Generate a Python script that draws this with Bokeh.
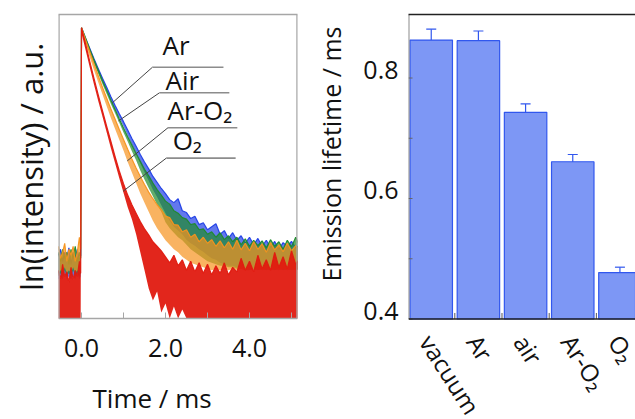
import numpy as np
from bokeh.plotting import figure
from bokeh.layouts import row
from bokeh.models import (Range1d, FixedTicker, NumeralTickFormatter, Label, Title, Span,
                          ColumnDataSource, Whisker, TeeHead, LinearAxis)
from bokeh.core.properties import value
from bokeh.embed import file_html
from bokeh.resources import INLINE

FONT = "Open Sans"

# ---------------- decay curves (ln intensity, arbitrary units) ----------------
time_ms = [-0.55, -0.50, -0.45, -0.40, -0.35, -0.30, -0.25, -0.20, -0.15, -0.10, -0.05, -0.02,
           0.0, 0.1, 0.2, 0.3, 0.4, 0.5, 0.6, 0.7, 0.8, 0.9,
           1.0, 1.1, 1.2, 1.3, 1.4, 1.5, 1.6, 1.7, 1.8, 1.9,
           2.0, 2.1, 2.2, 2.3, 2.4, 2.5, 2.6, 2.7, 2.8, 2.9,
           3.0, 3.1, 3.2, 3.3, 3.4, 3.5, 3.6, 3.7, 3.8, 3.9,
           4.0, 4.1, 4.2, 4.3, 4.4, 4.5, 4.6, 4.7, 4.8, 4.9,
           5.0, 5.1, 5.2]

ar_hi = [2.10, 2.30, 1.90, 2.20, 2.00, 2.35, 1.80, 2.20, 2.00, 2.30, 1.90, 2.10,
         9.66, 9.30, 8.96, 8.62, 8.30, 7.98, 7.68, 7.37, 7.08, 6.80,
         6.54, 6.26, 5.98, 5.72, 5.45, 5.20, 4.97, 4.72, 4.52, 4.32,
         4.15, 3.95, 3.85, 3.98, 3.58, 3.52, 3.32, 3.40, 3.12, 3.18,
         2.95, 3.05, 3.15, 2.80, 2.92, 2.66, 2.85, 2.60, 2.75, 2.50,
         2.70, 2.45, 2.66, 2.40, 2.60, 2.36, 2.56, 2.30, 2.52, 2.40,
         2.56, 2.35, 2.45]
ar_lo = [1.30, 1.40, 1.30, 1.50, 1.30, 1.40, 1.30, 1.40, 1.30, 1.50, 1.30, 1.40,
         9.52, 9.17, 8.84, 8.50, 8.18, 7.86, 7.56, 7.25, 6.95, 6.67,
         6.39, 6.08, 5.78, 5.48, 5.16, 4.86, 4.58, 4.28, 4.04, 3.76,
         3.50, 3.25, 3.05, 2.92, 2.80, 2.62, 2.50, 2.42, 2.30, 2.22,
         2.10, 2.00, 1.95, 1.85, 1.80, 1.75, 1.75, 1.70, 1.70, 1.65,
         1.65, 1.60, 1.65, 1.60, 1.65, 1.60, 1.65, 1.60, 1.65, 1.60,
         1.65, 1.60, 1.65]

air_hi = [2.20, 1.90, 2.30, 2.00, 2.20, 1.80, 2.30, 2.00, 2.40, 1.90, 2.20, 2.00,
          9.66, 9.30, 8.93, 8.58, 8.24, 7.90, 7.58, 7.25, 6.94, 6.63,
          6.33, 6.04, 5.76, 5.48, 5.22, 4.96, 4.74, 4.50, 4.28, 4.10,
          3.90, 3.80, 3.58, 3.50, 3.35, 3.30, 3.12, 3.15, 2.95, 2.98,
          2.80, 2.88, 2.70, 2.85, 2.62, 2.75, 2.55, 2.70, 2.45, 2.65,
          2.40, 2.60, 2.42, 2.58, 2.35, 2.62, 2.40, 2.55, 2.30, 2.60,
          2.38, 2.70, 2.40]
air_lo = [1.40, 1.50, 1.40, 1.60, 1.40, 1.50, 1.40, 1.60, 1.40, 1.50, 1.40, 1.50,
          9.52, 9.17, 8.81, 8.46, 8.12, 7.78, 7.46, 7.13, 6.82, 6.50,
          6.18, 5.88, 5.56, 5.26, 4.92, 4.62, 4.34, 4.06, 3.78, 3.55,
          3.20, 3.00, 2.85, 2.70, 2.60, 2.45, 2.30, 2.20, 2.10, 2.00,
          1.90, 1.85, 1.80, 1.75, 1.75, 1.70, 1.70, 1.65, 1.65, 1.60,
          1.60, 1.65, 1.60, 1.65, 1.60, 1.65, 1.60, 1.65, 1.60, 1.65,
          1.60, 1.65, 1.60]

aro2_hi = [2.40, 2.00, 2.20, 2.50, 1.90, 2.30, 2.10, 2.40, 1.90, 2.20, 2.70, 2.30,
           9.66, 9.25, 8.85, 8.45, 8.06, 7.68, 7.32, 6.96, 6.62, 6.28,
           5.95, 5.62, 5.30, 5.00, 4.72, 4.45, 4.20, 3.98, 3.78, 3.62,
           3.40, 3.35, 3.12, 3.10, 2.88, 2.95, 2.70, 2.80, 2.55, 2.70,
           2.50, 2.62, 2.40, 2.58, 2.35, 2.55, 2.30, 2.60, 2.28, 2.50,
           2.25, 2.55, 2.30, 2.48, 2.20, 2.52, 2.28, 2.45, 2.22, 2.50,
           2.25, 2.42, 2.30]
aro2_lo = [1.50, 1.60, 1.50, 1.70, 1.50, 1.60, 1.50, 1.70, 1.50, 1.60, 1.50, 1.60,
           9.50, 9.08, 8.66, 8.24, 7.84, 7.44, 7.05, 6.66, 6.30, 5.94,
           5.58, 5.20, 4.85, 4.50, 4.15, 3.85, 3.55, 3.25, 3.00, 2.80,
           2.60, 2.45, 2.30, 2.20, 2.05, 1.95, 1.85, 1.80, 1.75, 1.70,
           1.65, 1.60, 1.65, 1.60, 1.65, 1.60, 1.65, 1.60, 1.65, 1.60,
           1.65, 1.60, 1.65, 1.60, 1.65, 1.60, 1.65, 1.60, 1.65, 1.60,
           1.65, 1.60, 1.65]

o2_hi = [1.60, 1.30, 1.80, 1.40, 1.55, 1.20, 1.70, 1.30, 1.60, 1.40, 1.90, 1.50,
         9.66, 9.10, 8.52, 7.96, 7.42, 6.90, 6.38, 5.88, 5.38, 4.90,
         4.48, 4.10, 3.78, 3.50, 3.22, 2.98, 2.78, 2.55, 2.40, 2.25,
         2.05, 1.85, 2.10, 1.75, 1.95, 1.60, 1.90, 1.55, 1.85, 1.50,
         1.80, 1.45, 1.75, 1.50, 1.85, 1.45, 1.70, 1.55, 2.00, 1.60,
         1.90, 1.55, 2.10, 1.65, 1.95, 1.60, 2.20, 1.70, 2.05, 1.65,
         2.25, 1.80, 2.00]
o2_lo = [0.0, 0.0, 0.0, 0.0, 0.0, 0.0, 0.0, 0.0, 0.0, 0.0, 0.0, 0.0,
         9.48, 8.90, 8.32, 7.76, 7.22, 6.70, 6.18, 5.66, 5.16, 4.66,
         4.18, 3.70, 3.30, 2.80, 2.20, 1.60, 1.00, 0.60, 0.90, 0.20,
         0.50, 0.00, 0.40, 0.00, 0.30, 0.00, 0.00, 0.00, 0.00, 0.00,
         0.0, 0.0, 0.0, 0.0, 0.0, 0.0, 0.0, 0.0, 0.0, 0.0,
         0.0, 0.0, 0.0, 0.0, 0.0, 0.0, 0.0, 0.0, 0.0, 0.0,
         0.0, 0.0, 0.0]

time_ticks = [0, 2, 4]
time_minor = [1, 3, 5]

# ---------------- emission lifetimes ----------------
gases = ["vacuum", "Ar", "air", "Ar-O₂", "O₂"]
lifetime_ms = [0.863, 0.862, 0.743, 0.661, 0.477]
lifetime_err = [0.018, 0.016, 0.014, 0.012, 0.009]
life_ticks = [0.4, 0.6, 0.8]
life_minor = [0.5, 0.7]

GRAY = "#a6a6a6"
INK = "#111111"
H = 419          # canvas height; both frames run to the canvas bottom (axes drawn in-frame)

# ================= left panel =================
T0, T1 = -0.548, 5.143
Y_TOP = 10.1
Y_BOT = -3.355   # space below the data for the in-frame time axis
p1 = figure(width=298, height=H, x_range=Range1d(T0, T1), y_range=Range1d(Y_BOT, Y_TOP),
            output_backend="svg", toolbar_location=None, y_axis_location=None,
            x_axis_location=None,
            min_border_left=58, min_border_right=1, min_border_top=14, min_border_bottom=0)
p1.xgrid.visible = False
p1.ygrid.visible = False
p1.outline_line_color = None

series = [("Ar", ar_hi, ar_lo, "#1f3ee6", 0.7),
          ("Air", air_hi, air_lo, "#1e8a2b", 0.7),
          ("Ar-O₂", aro2_hi, aro2_lo, "#f7931e", 0.7),
          ("O₂", o2_hi, o2_lo, "#e01a10", 0.95)]
for name, hi, lo, col, a in series:
    p1.varea(x=time_ms, y1=lo, y2=hi, fill_color=col, fill_alpha=a)
    p1.line(x=time_ms, y=hi, line_color=col, line_width=1.2, line_alpha=0.95)

# plot box (gray)
p1.add_layout(Span(location=0, dimension="width", line_color=GRAY, line_width=1.3))
p1.segment(x0=[T0, T1], y0=[0, 0], x1=[T0, T1], y1=[Y_TOP, Y_TOP], line_color=GRAY, line_width=2.4)
p1.add_layout(LinearAxis(ticker=FixedTicker(ticks=[]), major_label_text_font_size="0px",
                         major_tick_out=0, major_tick_in=0, minor_tick_out=0, minor_tick_in=0,
                         major_label_standoff=0, axis_line_color=GRAY, axis_line_width=1.3), "above")
# time ticks (inward) and labels
all_ticks = sorted(time_ticks + time_minor)
p1.segment(x0=all_ticks, y0=[0] * len(all_ticks), x1=all_ticks, y1=[0.2] * len(all_ticks),
           line_color=GRAY, line_width=1)
p1.text(x=time_ticks, y=[0] * len(time_ticks), text=[f"{t:.1f}" for t in time_ticks],
        y_offset=29, text_align="center", text_baseline="middle", text_font=value(FONT),
        text_font_size="25px", text_color=INK)
p1.text(x=[1.68], y=[0], text=["Time / ms"], y_offset=79, text_align="center",
        text_baseline="middle", text_font=value(FONT), text_font_size="26px", text_color=INK)

p1.add_layout(Title(text="ln(intensity) / a.u.", align="right", offset=28, text_font=FONT,
                    text_font_size="31px", text_font_style="normal", text_color=INK,
                    standoff=14), "left")

# curve labels with leader lines: (text, series lo, anchor t, elbow (t, y), line end t, text (t, y))
callouts = [("Ar", ar_lo, 0.73, (1.69, 8.35), 3.38, (1.93, 9.08)),
            ("Air", air_lo, 0.88, (1.857, 7.50), 3.52, (2.00, 7.92)),
            ("Ar-O₂", aro2_lo, 1.09, (2.06, 6.34), 3.71, (2.05, 6.92)),
            ("O₂", o2_lo, 0.99, (2.02, 5.33), 3.67, (2.17, 5.92))]
for txt, lo, ta, (ex, ey), xend, (tx, ty) in callouts:
    ay = float(np.interp(ta, time_ms, lo))
    p1.segment(x0=[ta], y0=[ay], x1=[ex], y1=[ey], line_color="#444444", line_width=1)
    p1.segment(x0=[ex], y0=[ey], x1=[xend], y1=[ey], line_color="#8c8c8c", line_width=1.6)
    p1.add_layout(Label(x=tx, y=ty, text=txt, text_font=FONT, text_font_size="26px",
                        text_align="left", text_baseline="alphabetic", text_color=INK))

# ================= right panel =================
idx = list(range(len(gases)))
upper = [v + e for v, e in zip(lifetime_ms, lifetime_err)]
lower = [v - e for v, e in zip(lifetime_ms, lifetime_err)]
src = ColumnDataSource(dict(x=idx, top=lifetime_ms, upper=upper, lower=lower, name=gases))

X0, X1 = -0.482, 4.33
L_MIN, L_TOP, L_BOT = 0.4, 0.9054, 0.2332
LAB_SHIFT = 0.0133   # tick labels sit on their tick (baseline at the tick)
p2 = figure(width=337, height=H, x_range=Range1d(X0, X1), y_range=Range1d(L_BOT, L_TOP),
            output_backend="svg", toolbar_location=None, x_axis_location=None,
            y_axis_location=None,
            min_border_left=107, min_border_right=0, min_border_top=14, min_border_bottom=0)
p2.extra_y_ranges = {"lab": Range1d(L_BOT - LAB_SHIFT, L_TOP - LAB_SHIFT)}
p2.xgrid.visible = False
p2.ygrid.visible = False
p2.outline_line_color = None

BAR_LINE = "#3157ee"
p2.vbar(x="x", top="top", bottom=L_MIN, width=0.9, source=src,
        fill_color="#7d97f5", line_color=BAR_LINE, line_width=1.2)
p2.add_layout(Whisker(base="x", upper="upper", lower="lower", source=src,
                      line_color=BAR_LINE, line_width=1.2,
                      upper_head=TeeHead(size=10, line_color=BAR_LINE, line_width=1.2),
                      lower_head=TeeHead(size=10, line_color=BAR_LINE, line_width=1.2)))

# axis lines and inward ticks
p2.add_layout(Span(location=L_MIN, dimension="width", line_color="#222222", line_width=1.5))
p2.segment(x0=[X0], y0=[L_MIN], x1=[X0], y1=[L_TOP], line_color="#8c8c8c", line_width=2)
vt = sorted(life_ticks + life_minor)
p2.segment(x0=[X0] * len(vt), y0=vt, x1=[X0 + 0.085] * len(vt), y1=vt,
           line_color="#666666", line_width=1)
mids = [i + 0.5 for i in idx[:-1]]
p2.segment(x0=mids, y0=[L_MIN] * len(mids), x1=mids, y1=[L_MIN + 0.01] * len(mids),
           line_color="#555555", line_width=1)
p2.text(x=idx, y=[L_MIN] * len(idx), text=gases, angle=-1.0, x_offset=-5, y_offset=18,
        text_align="left", text_baseline="middle", text_font=value(FONT),
        text_font_size="24px", text_color=INK)

lab_axis = LinearAxis(y_range_name="lab", ticker=FixedTicker(ticks=life_ticks),
                      formatter=NumeralTickFormatter(format="0.0"),
                      major_tick_in=0, major_tick_out=0, minor_tick_in=0, minor_tick_out=0,
                      axis_line_color=None, major_label_text_font=FONT,
                      major_label_text_font_size="25px", major_label_text_color=INK,
                      major_label_standoff=10)
p2.add_layout(lab_axis, "left")

p2.add_layout(Title(text="Emission lifetime / ms", align="right", offset=12, text_font=FONT,
                    text_font_size="25px", text_font_style="normal", text_color=INK,
                    standoff=26), "left")

p2.add_layout(LinearAxis(ticker=FixedTicker(ticks=[]), major_label_text_font_size="0px",
                         major_tick_out=0, major_tick_in=0, minor_tick_out=0, minor_tick_in=0,
                         major_label_standoff=0, axis_line_color="#222222", axis_line_width=1.5),
              "above")

layout = row(p1, p2)
open("out.html", "w").write(file_html(layout, INLINE))
